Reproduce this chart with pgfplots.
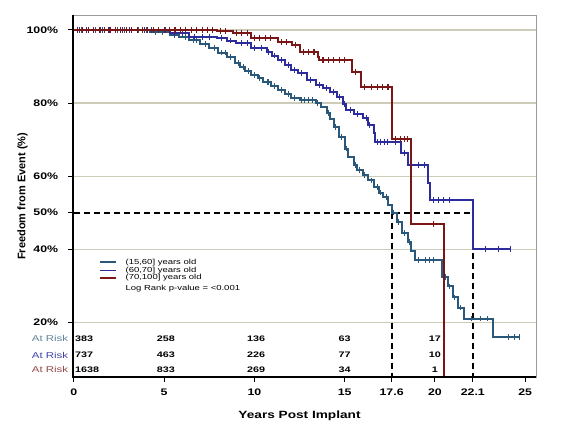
\documentclass[border=0pt]{standalone}
\usepackage{pgfplots}
\pgfplotsset{compat=1.18}
\usepackage{fontspec}
\setmainfont{Liberation Sans}
\definecolor{cteal}{HTML}{2A587A}
\definecolor{cblue}{HTML}{2C2C9C}
\definecolor{cred}{HTML}{7A1616}
\definecolor{cgrid}{HTML}{CCCCB8}
\definecolor{cframe}{HTML}{9A9A9A}
\begin{document}
\begin{tikzpicture}[x=1pt,y=1pt]
\begin{axis}[
  at={(73pt,54pt)}, anchor=south west,
  scale only axis, width=463pt, height=362pt,
  xmin=-0.05, xmax=25.6, ymin=5, ymax=104.1,
  axis line style={draw=cframe, line width=0.7pt},
  tick pos=left, tick align=outside,
  major tick length=5pt,
  tick style={black, line width=1pt},
  xtick={0,5,10,15,17.6,20,22.1,25},
  xticklabels={0,5,10,15,17.6,20,22.1,25},
  ytick={20,40,60,80,100},
  yticklabels={20\%,40\%,60\%,80\%,100\%},
  extra y ticks={50}, extra y tick labels={50\%},
  extra tick style={grid=none},
  ymajorgrids, grid style={cgrid, line width=1.1pt},
  ticklabel style={font=\bfseries\fontsize{9.5}{10}\selectfont, xscale=1.3},
  xticklabel style={yshift=-3pt},
  yticklabel style={xshift=-4pt},
  /pgf/number format/assume math mode=true,
  clip=true, clip mode=individual,
]
% dashed median lines
\addplot[black, line width=2pt, dash pattern=on 6pt off 4pt] coordinates {(0,50) (22.1,50)};
\addplot[black, line width=2pt, dash pattern=on 6pt off 4pt] coordinates {(17.6,50) (17.6,5)};
\addplot[black, line width=2pt, dash pattern=on 6pt off 4pt] coordinates {(22.1,50) (22.1,5)};
% (15,60]
\addplot[cteal, line width=2pt, const plot, mark=none] coordinates {
(0,100) (4.2,99.5) (5.3,98.6) (5.8,98.0) (6.4,97.3) (7.0,96.2) (7.5,95.0) (8.0,93.8) (8.5,92.6) (8.9,91.0) (9.2,89.9) (9.5,88.8) (9.8,87.7) (10.2,86.8) (10.5,85.8) (10.9,84.7) (11.3,83.6) (11.7,82.5) (12.0,81.4) (12.5,80.8) (13.4,80.0) (13.7,78.8) (14.0,77.3) (14.2,75.5) (14.4,73.4) (14.7,70.7) (15.0,67.5) (15.2,65.2) (15.5,63.0) (15.7,61.6) (16.0,60.3) (16.3,58.8) (16.6,57.0) (16.9,55.5) (17.1,54.2) (17.4,52.0) (17.6,50.0) (17.9,47.5) (18.2,44.4) (18.5,42.0) (18.7,39.5) (18.9,37.0) (20.4,32.3) (20.7,29.8) (21.0,26.8) (21.3,24.0) (21.6,21.0) (23.2,15.9) (24.7,15.9)};
\addplot[cteal, only marks, mark=|, mark size=2.8pt, mark options={line width=1pt}] coordinates {
(0.4,100) (0.8,100) (1.2,100) (1.6,100) (2.0,100) (2.4,100) (2.8,100) (3.2,100) (3.6,100) (4.0,100) (4.5,99.5) (4.9,99.5) (5.6,98.6) (6.2,98) (6.6,97.3) (6.8,97.3) (7.3,96.2) (7.8,95) (8.2,93.8) (8.4,93.8) (8.7,92.6) (9.1,91) (9.4,89.9) (9.7,88.8) (10.0,87.7) (10.3,86.8) (10.7,85.8) (10.8,85.8) (11.1,84.7) (11.5,83.6) (11.9,82.5) (12.2,81.4) (12.6,80.8) (12.8,80.8) (13.0,80.8) (13.2,80.8) (13.5,80) (14.1,77.3) (14.5,73.4) (14.8,70.7) (15.1,67.5) (15.6,63) (15.8,61.6) (16.1,60.3) (16.5,58.8) (16.8,57) (17.0,55.5) (17.3,54.2) (17.7,50) (18.0,47.5) (18.3,44.4) (18.6,42) (19.1,37) (19.5,37) (19.7,37) (19.9,37) (20.6,32.3) (20.8,29.8) (21.1,26.8) (21.4,24) (22.0,21) (22.5,21) (22.9,21) (24.1,15.9) (24.4,15.9) (24.7,15.9)};
% (60,70]
\addplot[cblue, line width=2pt, const plot, mark=none] coordinates {
(0,100) (5.3,99.2) (6.4,98.1) (7.9,97.8) (8.5,97.1) (9.0,96.4) (9.8,95.0) (10.7,94.0) (11.0,93.0) (11.3,91.8) (11.7,90.4) (12.0,89.0) (12.4,88.2) (12.9,86.3) (13.4,85.0) (13.8,84.1) (14.2,83.0) (14.6,81.6) (14.9,79.8) (15.1,78.1) (15.5,77.0) (16.0,75.9) (16.3,74.0) (16.6,71.8) (16.7,69.3) (18.1,66.3) (18.5,63.0) (19.6,58.0) (19.7,53.4) (22.1,40.0) (24.2,40.0)};
\addplot[cblue, only marks, mark=|, mark size=2.8pt, mark options={line width=1pt}] coordinates {
(0.3,100) (0.7,100) (1.1,100) (1.5,100) (1.9,100) (2.3,100) (2.7,100) (3.1,100) (3.5,100) (3.9,100) (4.3,100) (4.7,100) (5.1,100) (5.6,99.2) (6.0,99.2) (6.7,98.1) (7.1,98.1) (7.5,98.1) (8.2,97.8) (8.7,97.1) (9.3,96.4) (9.6,96.4) (10.0,95) (10.4,95) (10.8,94) (11.1,93) (11.5,91.8) (11.9,90.4) (12.2,89) (12.6,88.2) (13.1,86.3) (13.6,85) (14.0,84.1) (14.4,83) (14.7,81.6) (15.0,79.8) (15.3,78.1) (15.7,77) (16.2,75.9) (16.4,74) (16.8,69.3) (17.0,69.3) (17.2,69.3) (17.4,69.3) (17.8,69.3) (18.3,66.3) (19.1,63) (19.4,63) (19.9,53.4) (20.2,53.4) (20.5,53.4) (20.8,53.4) (22.8,40) (23.5,40) (24.2,40)};
% (70,100]
\addplot[cred, line width=2pt, const plot, mark=none] coordinates {
(0,100) (7.9,99.7) (8.8,99.2) (9.8,97.8) (11.3,96.7) (12.1,95.9) (12.5,94.0) (13.5,92.6) (13.6,91.8) (15.4,88.5) (15.9,84.4) (17.6,70.1) (18.7,46.8) (20.5,0)};
\addplot[cred, only marks, mark=|, mark size=3pt, mark options={line width=1.1pt}] coordinates {
(0.2,100) (0.5,100) (0.8,100) (1.1,100) (1.4,100) (1.7,100) (2.0,100) (2.3,100) (2.6,100) (2.9,100) (3.2,100) (3.5,100) (3.8,100) (4.1,100) (4.4,100) (4.7,100) (5.0,100) (5.3,100) (5.6,100) (5.9,100) (6.2,100) (6.5,100) (6.8,100) (7.1,100) (7.4,100) (7.7,100) (8.1,99.7) (8.4,99.7) (9.0,99.2) (9.3,99.2) (9.6,99.2) (10.0,97.8) (10.3,97.8) (10.6,97.8) (10.9,97.8) (11.5,96.7) (11.8,96.7) (12.3,95.9) (12.7,94) (13.0,94) (13.3,94) (13.8,91.8) (14.1,91.8) (14.4,91.8) (14.7,91.8) (15.0,91.8) (15.6,88.5) (16.1,84.4) (16.5,84.4) (16.8,84.4) (17.1,84.4) (17.4,84.4) (17.8,70.1) (18.1,70.1) (18.3,70.1) (18.5,70.1) (19.9,46.8)};
% legend
\draw[cteal, line width=1.6pt] (axis cs:1.44,36.4) -- (axis cs:2.33,36.4);
\draw[cblue, line width=1.6pt] (axis cs:1.44,34.2) -- (axis cs:2.33,34.2);
\draw[cred, line width=1.6pt] (axis cs:1.44,32.1) -- (axis cs:2.33,32.1);
\begin{scope}[every node/.style={anchor=west, inner sep=0pt, xscale=1.3, font=\fontsize{7.3}{8}\selectfont}]
\node at (axis cs:2.85,36.4) {(15,60] years old};
\node at (axis cs:2.85,34.2) {(60,70] years old};
\node at (axis cs:2.85,32.1) {(70,100] years old};
\node at (axis cs:2.85,29.2) {Log Rank p-value = <0.001};
\end{scope}
% at risk numbers
\begin{scope}[every node/.style={inner sep=0pt, xscale=1.35, font=\bfseries\fontsize{8}{9}\selectfont}]
\node[anchor=west] at (axis cs:0.05,15.6) {383};
\node[anchor=west] at (axis cs:0.05,11.0) {737};
\node[anchor=west] at (axis cs:0.05,7.1) {1638};
\node at (axis cs:5.1,15.6) {258};
\node at (axis cs:5.1,11.0) {463};
\node at (axis cs:5.1,7.1) {833};
\node at (axis cs:10.1,15.6) {136};
\node at (axis cs:10.1,11.0) {226};
\node at (axis cs:10.1,7.1) {269};
\node at (axis cs:15.0,15.6) {63};
\node at (axis cs:15.0,11.0) {77};
\node at (axis cs:15.0,7.1) {34};
\node at (axis cs:20.0,15.6) {17};
\node at (axis cs:20.0,11.0) {10};
\node at (axis cs:20.0,7.1) {1};
\end{scope}
\begin{scope}[every node/.style={anchor=east, inner sep=0pt, xscale=1.35, font=\fontsize{8.5}{9}\selectfont}]
\node[text=cteal!75!white] at (axis cs:-0.3,15.6) {At Risk};
\node[text=cblue!90!white] at (axis cs:-0.3,11.0) {At Risk};
\node[text=cred!80!white] at (axis cs:-0.3,7.1) {At Risk};
\end{scope}
% axis titles
\node[inner sep=0pt, xscale=1.3, font=\bfseries\fontsize{10.5}{11}\selectfont] at (axis cs:12.5,-5.5) {Years Post Implant};
\node[inner sep=0pt, rotate=90, font=\bfseries\fontsize{11}{12}\selectfont] at (axis cs:-2.85,54.5) {Freedom from Event (\%)};
% black left and bottom axis lines
\draw[black, line width=1.5pt] (rel axis cs:0,1) -- (rel axis cs:0,0) -- (rel axis cs:1,0);
\end{axis}
\pgfresetboundingbox
\path (0,0) rectangle (569,431);
\end{tikzpicture}
\end{document}
